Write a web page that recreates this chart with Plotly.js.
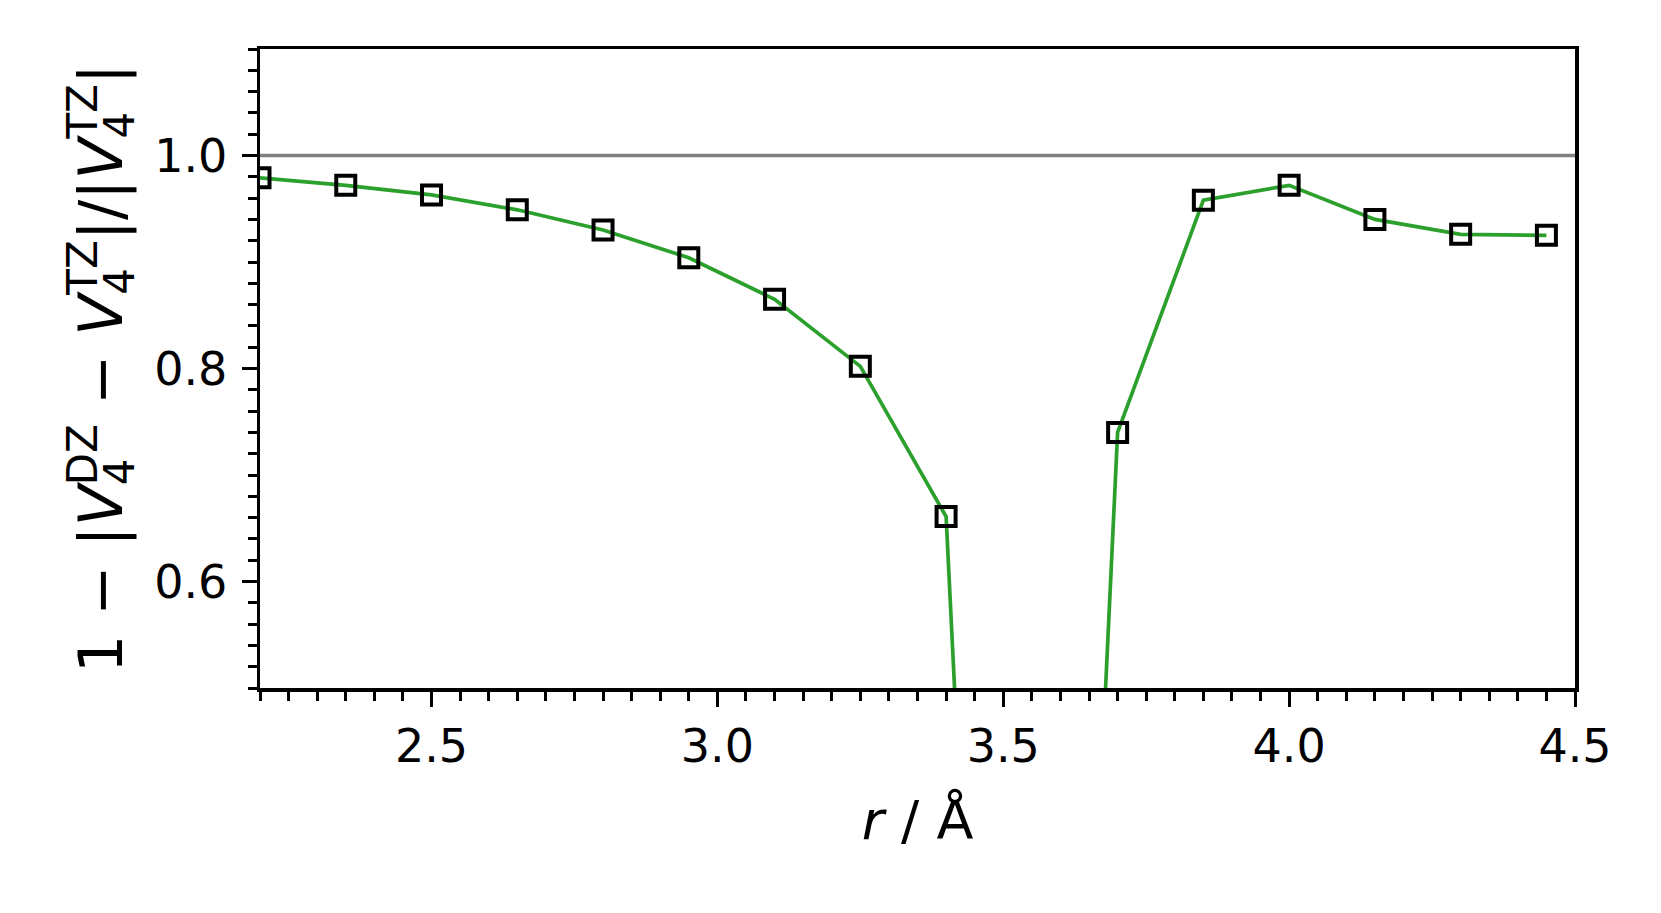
<!DOCTYPE html>
<html>
<head>
<meta charset="utf-8">
<script src="https://cdn.plot.ly/plotly-3.0.1.min.js"></script>
<style>
  html, body { margin: 0; padding: 0; background: #ffffff; }
  #chart { width: 1661px; height: 913px; }
</style>
</head>
<body>
<div id="chart"></div>
<script>
// separation r (Angstrom) and 1 - |V4_DZ - V4_TZ| / |V4_TZ|
const rValues = [2.2, 2.35, 2.5, 2.65, 2.8, 2.95, 3.1, 3.25, 3.4, 3.55, 3.7, 3.85, 4.0, 4.15, 4.3, 4.45];
const ratioValues = [0.979, 0.972, 0.963, 0.949, 0.930, 0.904, 0.865, 0.802, 0.661, -0.97, 0.740, 0.958, 0.972, 0.940, 0.926, 0.925];
const referenceLevel = 1.0;

const xRange = [2.2, 4.5];
const yRange = [0.5, 1.1];

const fontFamily = "DejaVu Sans, sans-serif";

function makeAxis(range, dtick, minorDtick) {
  return {
    range,
    dtick,
    tick0: 0,
    tickformat: ".1f",
    ticks: "outside",
    ticklen: 15,
    tickwidth: 3,
    tickcolor: "#000000",
    showline: true,
    linewidth: 3.5,
    linecolor: "#000000",
    mirror: true,
    showgrid: false,
    zeroline: false,
    tickfont: { family: fontFamily, size: 46, color: "#000000" },
    minor: {
      dtick: minorDtick,
      ticks: "outside",
      ticklen: 9,
      tickwidth: 3,
      tickcolor: "#000000",
      showgrid: false,
    },
  };
}

const xaxis = makeAxis(xRange, 0.5, 0.05);
xaxis.title = {
  text: "<i>r</i> / Å",
  font: { family: fontFamily, size: 54, color: "#000000" },
  standoff: 30,
};

const yaxis = makeAxis(yRange, 0.2, 0.02);
yaxis.ticklabelstandoff = 5;
yaxis.title = {
  text: "1 − |<i>V</i><sub>4</sub><sup>DZ</sup> − <i>V</i><sub>4</sub><sup>TZ</sup>|/|<i>V</i><sub>4</sub><sup>TZ</sup>|",
  font: { family: fontFamily, size: 60, color: "#000000" },
  standoff: 13,
};

// stack each superscript over the subscript before it, like TeX does
function stackScripts(gd) {
  const title = gd.querySelector(".ytitle");
  if (!title) {
    return;
  }
  const leaves = Array.from(title.querySelectorAll("tspan")).filter((t) => !t.children.length);
  let subWidth = 0;
  for (const tspan of leaves) {
    const text = tspan.textContent;
    if (text === "4") {
      subWidth = tspan.getComputedTextLength();
    } else if ((text === "DZ" || text === "TZ") && subWidth) {
      tspan.setAttribute("dx", -subWidth);
      subWidth = 0;
    }
  }
}

Plotly.newPlot(
  "chart",
  [
    {
      type: "scatter",
      mode: "lines+markers",
      x: rValues,
      y: ratioValues,
      line: { color: "#2ca02c", width: 3.7 },
      marker: {
        symbol: "square-open",
        size: 19,
        color: "#000000",
        line: { color: "#000000", width: 4 },
      },
      cliponaxis: true,
      showlegend: false,
      hoverinfo: "skip",
    },
  ],
  {
    width: 1661,
    height: 913,
    margin: { l: 259.5, r: 86, t: 48.7, b: 224.5 },
    paper_bgcolor: "#ffffff",
    plot_bgcolor: "#ffffff",
    font: { family: fontFamily, color: "#000000" },
    xaxis,
    yaxis,
    shapes: [
      {
        type: "line",
        xref: "paper",
        x0: 0,
        x1: 1,
        yref: "y",
        y0: referenceLevel,
        y1: referenceLevel,
        line: { color: "#808080", width: 3.3 },
        layer: "below",
      },
    ],
  },
  { displayModeBar: false, staticPlot: true }
).then(stackScripts);
</script>
</body>
</html>
